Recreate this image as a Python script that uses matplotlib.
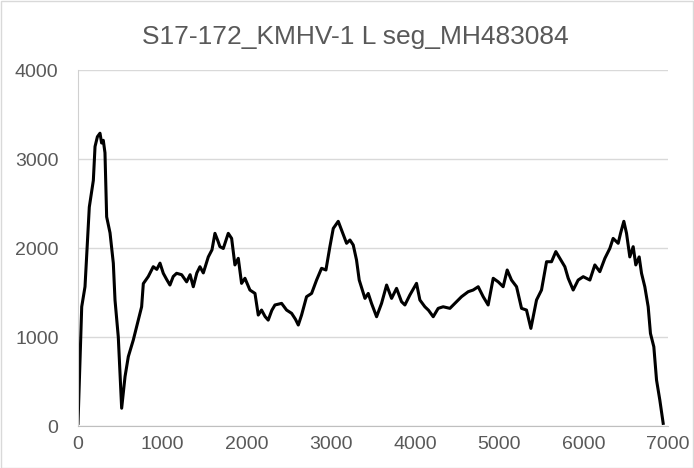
import matplotlib
matplotlib.use("Agg")
import matplotlib.pyplot as plt
from matplotlib.patches import Rectangle

plt.rcParams['font.family'] = ['Liberation Sans', 'DejaVu Sans']

title = "S17-172_KMHV-1 L seg_MH483084"

# genome position (nt) and read depth
position = [0, 44, 83, 134, 182, 202, 230, 261, 280, 300, 320, 340, 380, 419, 439,
            478, 518, 558, 597, 656, 715, 755, 775, 834, 893, 935, 973, 1012, 1050,
            1091, 1130, 1170, 1230, 1289, 1330, 1368, 1410, 1447, 1487, 1546, 1590,
            1625, 1660, 1684, 1724, 1783, 1823, 1862, 1902, 1941, 1981, 2040, 2100,
            2139, 2178, 2220, 2257, 2300, 2337, 2416, 2475, 2535, 2580, 2614, 2653,
            2712, 2772, 2831, 2890, 2942, 2989, 3029, 3088, 3127, 3187, 3227, 3266,
            3305, 3337, 3405, 3444, 3483, 3543, 3602, 3662, 3721, 3780, 3839, 3879,
            3938, 4017, 4057, 4116, 4160, 4215, 4274, 4333, 4413, 4472, 4551, 4630,
            4689, 4749, 4808, 4867, 4927, 4986, 5045, 5093, 5144, 5204, 5263, 5322,
            5374, 5441, 5500, 5560, 5619, 5670, 5718, 5777, 5817, 5876, 5935, 5995,
            6074, 6133, 6192, 6252, 6311, 6350, 6410, 6438, 6477, 6509, 6548, 6588,
            6619, 6659, 6687, 6726, 6766, 6793, 6833, 6865, 6904, 6944]
depth = [30, 1340, 1565, 2460, 2760, 3140, 3250, 3290, 3180, 3210, 3070, 2350, 2170,
         1830, 1416, 1000, 200, 555, 780, 966, 1190, 1340, 1600, 1680, 1790, 1760,
         1830, 1716, 1650, 1584, 1680, 1716, 1700, 1620, 1700, 1565, 1720, 1790, 1720,
         1900, 1980, 2165, 2080, 2015, 1995, 2165, 2108, 1810, 1884, 1603, 1660, 1528,
         1490, 1247, 1303, 1230, 1190, 1300, 1360, 1378, 1303, 1266, 1200, 1135, 1247,
         1453, 1490, 1640, 1772, 1753, 2015, 2220, 2300, 2202, 2053, 2090, 2034, 1865,
         1640, 1434, 1490, 1378, 1228, 1378, 1584, 1434, 1547, 1397, 1360, 1472, 1603,
         1416, 1340, 1300, 1228, 1322, 1340, 1322, 1378, 1453, 1509, 1528, 1565, 1453,
         1360, 1660, 1620, 1565, 1753, 1640, 1565, 1322, 1303, 1097, 1416, 1528, 1846,
         1846, 1960, 1884, 1790, 1660, 1528, 1640, 1678, 1640, 1810, 1734, 1884, 1996,
         2108, 2053, 2165, 2300, 2165, 1900, 2015, 1810, 1900, 1716, 1565, 1340, 1040,
         890, 517, 292, 30]

x_ticks = [0, 1000, 2000, 3000, 4000, 5000, 6000, 7000]
y_ticks = [0, 1000, 2000, 3000, 4000]

fig = plt.figure(figsize=(6.94, 4.68), dpi=100)
ax = fig.add_axes([0.1124, 0.0897, 0.85, 0.7607])

ax.plot(position, depth, color='black', linewidth=2.2, solid_joinstyle='round')

ax.set_xlim(0, 7000)
ax.set_ylim(0, 4000)
ax.set_xticks(x_ticks)
ax.set_yticks(y_ticks)
ax.tick_params(axis='both', length=0, labelsize=14, colors='#595959')
ax.tick_params(axis='y', pad=14)
ax.tick_params(axis='x', pad=7)
ax.grid(axis='y', color='#d9d9d9', linewidth=1)
ax.set_axisbelow(True)
for side in ['top', 'right']:
    ax.spines[side].set_visible(False)
ax.spines['bottom'].set_color('#bfbfbf')
ax.spines['left'].set_color('#d0d0d0')

fig.text(0.5115, 0.905, title, ha='center', va='baseline', fontsize=19, color='#595959')

# light chart border
fig.patches.append(Rectangle((0.001, 0.001), 0.998, 0.997, transform=fig.transFigure,
                             fill=False, edgecolor='#d9d9d9', linewidth=1))

fig.savefig('out.png', dpi=100)
